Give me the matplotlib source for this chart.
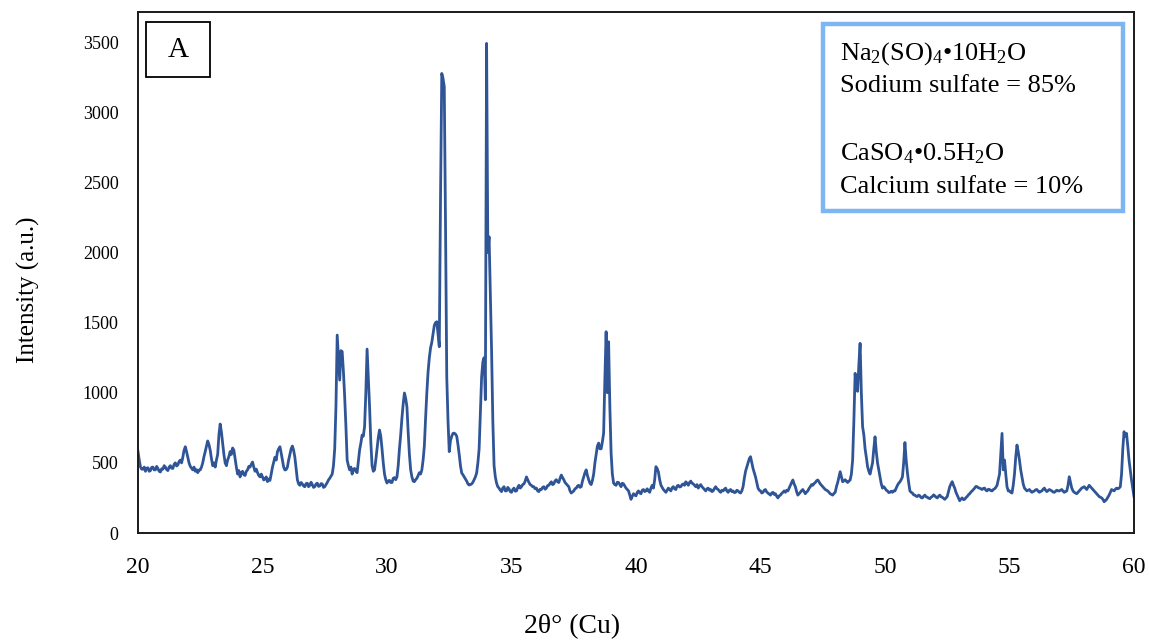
import numpy as np
import matplotlib
matplotlib.use("Agg")
import matplotlib.pyplot as plt
from matplotlib.patches import Rectangle

plt.rcParams["font.family"] = ["Liberation Serif", "DejaVu Serif"]
plt.rcParams["mathtext.fontset"] = "custom"
plt.rcParams["mathtext.rm"] = "Liberation Serif"
plt.rcParams["mathtext.it"] = "Liberation Serif:italic"

# XRD scan, 2theta from 20 to 60 deg in 0.05 deg steps (one row per degree)
dos_theta = np.linspace(20.0, 60.0, 801)
intensidad = [
    580, 520, 470, 455, 455, 470, 440, 462, 465, 440, 445, 468, 470, 450, 450, 475, 460, 440, 435, 458,              # 20
    455, 480, 470, 452, 445, 470, 480, 462, 460, 490, 500, 478, 485, 510, 520, 500, 540, 590, 615, 580,              # 21
    540, 500, 475, 462, 450, 470, 440, 452, 430, 448, 450, 470, 500, 545, 580, 620, 656, 630, 590, 530,              # 22
    480, 500, 470, 520, 560, 700, 777, 720, 640, 560, 500, 480, 520, 545, 580, 560, 606, 590, 530, 470,              # 23
    420, 445, 400, 430, 440, 415, 410, 440, 450, 475, 470, 490, 506, 470, 440, 455, 430, 410, 400, 420,              # 24
    400, 378, 385, 400, 366, 385, 375, 420, 470, 505, 540, 520, 580, 600, 615, 570, 520, 470, 449, 452,              # 25
    470, 520, 560, 600, 620, 590, 540, 460, 380, 350, 340, 360, 350, 335, 330, 352, 355, 330, 340, 362,              # 26
    345, 325, 330, 350, 355, 332, 335, 352, 350, 325, 330, 345, 360, 378, 390, 405, 420, 480, 600, 900,              # 27
    1411, 1250, 1090, 1300, 1293, 1150, 972, 760, 520, 480, 450, 470, 420, 455, 460, 440, 430, 510, 592, 640,        # 28
    698, 690, 760, 1000, 1311, 1100, 900, 650, 480, 440, 450, 520, 600, 680, 734, 690, 600, 500, 420, 380,           # 29
    356, 372, 375, 360, 360, 390, 395, 380, 400, 480, 600, 700, 820, 920, 998, 960, 900, 720, 560, 450,              # 30
    400, 370, 366, 380, 390, 410, 430, 420, 450, 520, 620, 820, 1000, 1150, 1250, 1320, 1360, 1420, 1480, 1500,      # 31
    1506, 1420, 1328, 2400, 3276, 3240, 3181, 2200, 1114, 800, 580, 660, 690, 710, 712, 705, 690, 630, 560, 480,     # 32
    428, 415, 400, 385, 370, 350, 342, 345, 350, 362, 380, 400, 428, 500, 600, 850, 1114, 1220, 1250, 950,           # 33
    3490, 2000, 2112, 1700, 1300, 800, 480, 400, 356, 330, 320, 305, 295, 320, 330, 300, 300, 325, 315, 295,         # 34
    290, 310, 320, 298, 300, 325, 340, 320, 330, 345, 350, 370, 400, 380, 360, 345, 340, 330, 330, 315,              # 35
    320, 300, 295, 312, 310, 325, 330, 312, 320, 338, 340, 355, 365, 345, 350, 372, 380, 365, 360, 390,              # 36
    413, 395, 380, 360, 350, 340, 330, 300, 285, 292, 300, 315, 320, 335, 340, 325, 330, 370, 400, 430,              # 37
    450, 410, 380, 355, 345, 375, 420, 500, 560, 620, 641, 600, 600, 650, 712, 1100, 1435, 1000, 1363, 900,          # 38
    570, 420, 356, 345, 340, 362, 360, 345, 330, 355, 350, 335, 320, 310, 300, 270, 240, 262, 280, 270,              # 39
    265, 290, 300, 285, 280, 305, 310, 295, 300, 315, 300, 290, 320, 340, 320, 380, 473, 460, 435, 380,              # 40
    342, 325, 310, 300, 290, 305, 320, 310, 300, 322, 330, 315, 310, 335, 340, 328, 330, 345, 350, 340,              # 41
    365, 355, 340, 360, 370, 355, 350, 340, 330, 345, 320, 335, 345, 330, 320, 310, 300, 315, 320, 305,              # 42
    310, 295, 300, 318, 330, 315, 310, 298, 290, 305, 300, 312, 320, 300, 290, 305, 310, 295, 300, 288,              # 43
    290, 305, 300, 290, 285, 300, 330, 390, 440, 470, 500, 530, 544, 500, 460, 430, 400, 360, 320, 305,              # 44
    300, 285, 290, 305, 310, 292, 285, 278, 270, 285, 290, 275, 280, 262, 250, 265, 270, 282, 290, 300,              # 45
    290, 305, 300, 320, 340, 360, 378, 350, 330, 295, 270, 280, 290, 302, 310, 295, 280, 292, 300, 318,              # 46
    330, 345, 340, 352, 360, 372, 378, 365, 350, 340, 330, 320, 310, 305, 300, 290, 280, 275, 270, 282,              # 47
    290, 330, 360, 400, 437, 400, 365, 372, 380, 368, 360, 370, 378, 420, 520, 800, 1138, 1050, 1010, 1200,          # 48
    1352, 1000, 758, 700, 600, 540, 473, 440, 420, 460, 500, 600, 686, 580, 500, 450, 400, 350, 320, 330,            # 49
    320, 305, 300, 288, 290, 298, 290, 300, 300, 320, 340, 355, 365, 380, 400, 500, 645, 520, 430, 360,              # 50
    300, 290, 285, 272, 270, 262, 260, 270, 265, 252, 250, 262, 270, 258, 255, 248, 245, 255, 260, 272,              # 51
    265, 255, 250, 262, 270, 258, 255, 248, 240, 250, 260, 295, 330, 350, 366, 340, 320, 290, 270, 250,              # 52
    230, 242, 250, 238, 240, 252, 260, 272, 280, 292, 300, 310, 320, 332, 330, 322, 320, 315, 310, 318,              # 53
    320, 305, 300, 312, 310, 302, 300, 310, 315, 325, 340, 380, 420, 560, 710, 450, 520, 420, 330, 300,              # 54
    300, 290, 285, 340, 420, 540, 627, 580, 520, 450, 400, 350, 320, 310, 300, 305, 310, 298, 290, 295,              # 55
    300, 308, 310, 298, 290, 296, 300, 312, 320, 305, 295, 302, 310, 305, 300, 292, 290, 298, 305, 300,              # 56
    300, 305, 310, 298, 290, 295, 300, 340, 401, 360, 320, 300, 290, 285, 280, 290, 300, 310, 320, 325,              # 57
    330, 320, 310, 325, 340, 330, 320, 310, 300, 290, 280, 270, 260, 255, 250, 240, 223, 230, 240, 255,              # 58
    270, 290, 310, 305, 300, 312, 320, 315, 320, 330, 420, 600, 722, 690, 710, 620, 520, 450, 378, 320,              # 59
    259,                                                                                                             # 60
]

fig = plt.figure(figsize=(11.49, 6.41), dpi=100)
ax = fig.add_axes([138 / 1149, 1 - 533 / 641, 996 / 1149, 521 / 641])

ax.plot(dos_theta, intensidad, color="#2F5597", lw=2.0)

ax.set_xlim(20, 60)
ax.set_ylim(0, 3714)
ax.set_xticks(range(20, 61, 5))
ax.set_yticks(range(0, 3501, 500))
ax.tick_params(axis="both", length=0)
ax.tick_params(axis="x", labelsize=17, pad=17)
ax.tick_params(axis="y", labelsize=13, pad=14)
for s in ax.spines.values():
    s.set_linewidth(1.4)
    s.set_color("#1a1a1a")

fig.text(572 / 1149, 1 - 627 / 641, "2θ° (Cu)", fontsize=20, ha="center", va="center")
fig.text(28 / 1149, 1 - 290 / 641, "Intensity (a.u.)", fontsize=18, rotation=90,
         ha="center", va="center")

# panel letter
fig.patches.append(Rectangle((146 / 1149, 1 - 77 / 641), 64 / 1149, 55 / 641,
                             transform=fig.transFigure, fill=False, ec="black", lw=1.3))
fig.text(178 / 1149, 1 - 50 / 641, "A", fontsize=21, ha="center", va="center")

# phase box
fig.patches.append(Rectangle((823 / 1149, 1 - 211 / 641), 300 / 1149, 187 / 641,
                             transform=fig.transFigure, fill=True, fc="white",
                             ec="#7DB6F0", lw=3.2))
x_txt = 840 / 1149
fig.text(x_txt, 1 - 60 / 641, r"Na$_2$(SO)$_4$•10H$_2$O", fontsize=19, va="baseline")
fig.text(x_txt, 1 - 92 / 641, "Sodium sulfate = 85%", fontsize=19, va="baseline")
fig.text(x_txt, 1 - 160 / 641, r"CaSO$_4$•0.5H$_2$O", fontsize=19, va="baseline")
fig.text(x_txt, 1 - 193 / 641, "Calcium sulfate = 10%", fontsize=19, va="baseline")

fig.savefig("out.png", dpi=100)
